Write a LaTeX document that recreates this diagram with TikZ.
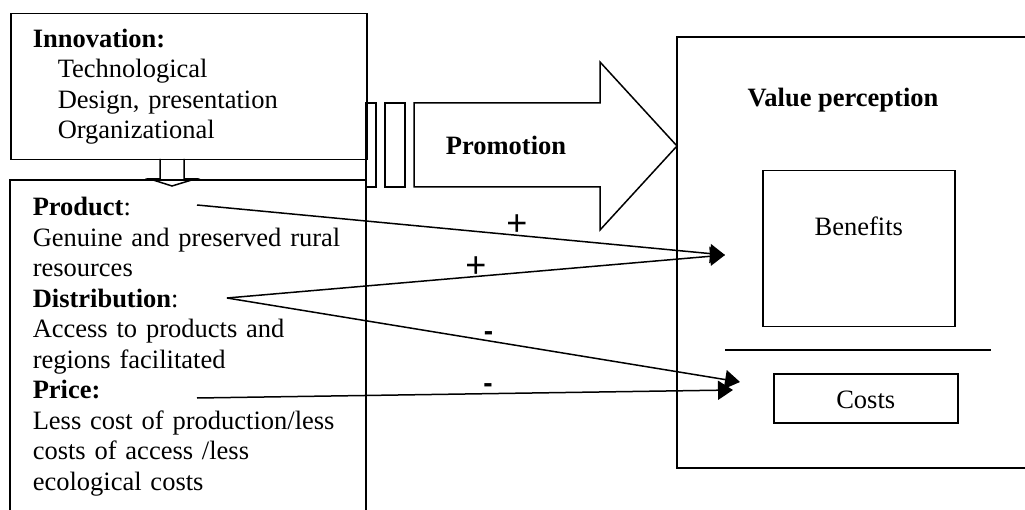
\documentclass[tikz,border=0pt]{standalone}
\usepackage{fontspec}
\setmainfont{Liberation Serif}
\newfontfamily\signfont{Liberation Sans}
\usetikzlibrary{arrows.meta, positioning}

\begin{document}
\begin{tikzpicture}[x=1pt, y=-1pt, >={Triangle[length=15pt, width=19pt]}, line width=1.5pt,
    every node/.style={font=\fontsize{26.5}{30.5}\selectfont},
    box/.style={draw, line width=1.5pt},
    txt/.style={inner sep=0pt, anchor=north west, align=left},
    plus/.style={inner sep=0pt, font=\signfont\fontsize{36}{38}\selectfont},
    minus/.style={inner sep=0pt, font=\signfont\bfseries\fontsize{28}{30}\selectfont}]
  \useasboundingbox (0,0) rectangle (1025,510);

  % left column
  \node[box, txt, inner xsep=22pt, inner ysep=12pt, text width=312pt] (innov) at (10,13)
    {\strut\textbf{Innovation:}\\ \hspace*{25pt}Technological\\ \hspace*{25pt}Design, presentation\\ \hspace*{25pt}Organizational\strut};
  \draw (10,512) -- (10,180) -- (366,180) -- (366,512);
  \node[txt, text width=330pt] (mix) at (32,193.65)
    {\strut\textbf{Product}:\\ Genuine and preserved rural\\ resources\\
     \textbf{Distribution}:\\ Access to products and\\ regions facilitated\\
     \textbf{Price:}\\ Less cost of production/less\\ costs of access /less\\ ecological costs};
  \draw (160,159) -- (160,179) -- (150,179) -- (172,186) -- (195,179) -- (184,179) -- (184,159);

  % promotion arrow
  \draw (366,103) rectangle (376,187);
  \draw (385,103) rectangle (405,187);
  \draw (414,103) -- (600,103) -- (600,62) -- (677,146) -- (600,230) -- (600,187) -- (414,187) -- cycle;
  \node[anchor=base, font=\fontsize{26.5}{30.5}\selectfont\bfseries] (promo) at (506,155) {Promotion};

  % value perception
  \draw (1027,37) -- (677,37) -- (677,468) -- (1027,468);
  \node[anchor=base, font=\fontsize{26.5}{30.5}\selectfont\bfseries] (value) at (843,107) {Value perception};
  \node[box, anchor=north west, inner sep=0pt, minimum width=192pt, text height=65pt, text depth=91pt] (benefits) at (762,170) {Benefits};
  \draw (725,350) -- (991,350);
  \node[box, anchor=north west, inner sep=0pt, minimum width=184pt, text height=35pt, text depth=14pt] (costs) at (773,373) {Costs};

  \coordinate (prodout) at (197,205);
  \coordinate (distout) at (227,298);
  \coordinate (priceout) at (197,398);
  \coordinate (benin) at (725,255);
  \coordinate (costin) at (740,382);
  \coordinate (pricein) at (733,390);
  \draw[->] (prodout) -- node[plus, pos=0.606, yshift=10pt]{+} (benin);
  \draw[->] (distout) -- node[plus, pos=0.5, yshift=9pt]{+} (benin);
  \draw[->] (distout) -- node[minus, pos=0.51, yshift=5pt]{-} (costin);
  \draw[->] (priceout) -- node[minus, pos=0.543, yshift=6pt]{-} (pricein);
\end{tikzpicture}
\end{document}
